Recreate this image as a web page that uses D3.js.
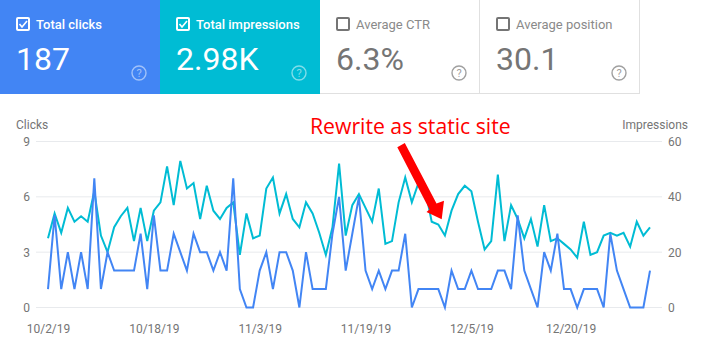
<!DOCTYPE html>
<meta charset="utf-8">
<script src="https://d3js.org/d3.v7.min.js"></script>
<style>
  html, body { margin: 0; background: #fff; }
  svg { display: block; font-family: Roboto, sans-serif; }
</style>
<body>
<div id="my_dataviz"></div>
<script>
// metric cards
var cardTitles = ["Total clicks", "Total impressions", "Average CTR", "Average position"];
var cardValues = ["187", "2.98K", "6.3%", "30.1"];
var cardFills = ["#4285f4", "#00bcd4", "#ffffff", "#ffffff"];
var cardChecked = [true, true, false, false];

// daily series
var clicks = [1,5,1,3,1,3,1,7,1,3,2,2,2,2,4,1,5,2,2,4,3,2,4,3,3,2,3,2,7,1,
  0,0,2,3,1,3,3,2,0,3,1,1,1,4,6,2,4,6,2,1,2,1,2,2,4,0,1,1,1,1,0,2,1,1,2,
  1,1,1,2,2,1,5,2,1,0,3,2,4,1,1,0,1,1,1,0,4,2,1,0,0,0,2];
var impressions = [25,34,27,36,31,33,31,42,26,20,29,33,36,24,36,24,35,38,51,37,53,43,45,32,44,35,32,36,38,19,
  34,25,26,43,47,34,41,32,29,38,34,27,19,29,52,26,37,41,36,31,43,23,24,38,47,38,45,43,31,30,26,35,41,44,42,
  31,21,24,48,24,37,32,25,32,22,37,24,25,23,21,18,31,19,20,26,27,26,27,22,31,26,29];

// x tick labels and the day each one sits on
var xTickDays = [0, 16, 32, 48, 64, 79];
var xTickLabels = ["10/2/19", "10/18/19", "11/3/19", "11/19/19", "12/5/19", "12/20/19"];
var clickTicks = [0, 3, 6, 9];
var impressionTicks = [0, 20, 40, 60];

var width = 704, height = 361;
var svg = d3.select("#my_dataviz").append("svg")
  .attr("width", width)
  .attr("height", height);

// cards
var cardW = 160, cardH = 94;
var card = svg.selectAll(".card")
  .data(cardTitles)
  .enter().append("g")
    .attr("class", "card")
    .attr("transform", function(d, i) { return "translate(" + (i * cardW) + ",0)"; });

card.append("rect")
  .attr("width", cardW)
  .attr("height", cardH)
  .attr("fill", function(d, i) { return cardFills[i]; });

card.append("rect")
  .attr("x", 17).attr("y", 18)
  .attr("width", 12).attr("height", 12)
  .attr("rx", 1)
  .attr("fill", "none")
  .attr("stroke-width", 2)
  .attr("stroke", function(d, i) { return cardChecked[i] ? "#ffffff" : "#757575"; });

card.filter(function(d, i) { return cardChecked[i]; }).append("path")
  .attr("d", "M19.5 24 L22 27 L27 21")
  .attr("fill", "none")
  .attr("stroke", "#fff")
  .attr("stroke-width", 1.6);

card.append("text")
  .attr("x", 36).attr("y", 28.5)
  .attr("font-size", 13)
  .attr("font-weight", function(d, i) { return cardChecked[i] ? 500 : 400; })
  .attr("fill", function(d, i) { return cardChecked[i] ? "#ffffff" : "#8a8a8a"; })
  .text(function(d) { return d; });

card.append("text")
  .attr("x", 16).attr("y", 70)
  .attr("font-size", 32)
  .attr("fill", function(d, i) { return cardChecked[i] ? "#ffffff" : "#757575"; })
  .text(function(d, i) { return cardValues[i]; });

card.append("circle")
  .attr("cx", 139).attr("cy", 73).attr("r", 7)
  .attr("fill", "none")
  .attr("stroke-width", 1.4)
  .attr("stroke", function(d, i) { return cardChecked[i] ? "rgba(255,255,255,0.5)" : "#a0a0a0"; });

card.append("text")
  .attr("x", 139).attr("y", 77)
  .attr("text-anchor", "middle")
  .attr("font-size", 11)
  .attr("fill", function(d, i) { return cardChecked[i] ? "rgba(255,255,255,0.5)" : "#a0a0a0"; })
  .text("?");

// card borders
svg.append("g").selectAll("line")
  .data([480, 640])
  .enter().append("line")
    .attr("x1", function(d) { return d - 0.5; })
    .attr("x2", function(d) { return d - 0.5; })
    .attr("y1", 0).attr("y2", cardH)
    .attr("stroke", "#e0e0e0");
svg.append("line")
  .attr("x1", 320).attr("x2", 640)
  .attr("y1", cardH - 0.5).attr("y2", cardH - 0.5)
  .attr("stroke", "#e0e0e0");

// scales
var x = d3.scaleLinear().domain([0, clicks.length - 1]).range([48, 650]);
var yClicks = d3.scaleLinear().domain([0, 9]).range([307.5, 141.5]);
var yImpr = d3.scaleLinear().domain([0, 60]).range([307.5, 141.5]);

// grid
svg.append("g").selectAll("line")
  .data(clickTicks)
  .enter().append("line")
    .attr("x1", 36).attr("x2", 662)
    .attr("y1", function(d) { return yClicks(d); })
    .attr("y2", function(d) { return yClicks(d); })
    .attr("stroke", "#e8eaed");

// axes
var axisColor = "#757575";
var fmtAxis = function(g) {
  g.select(".domain").remove();
  g.selectAll(".tick line").remove();
  g.selectAll(".tick text")
    .attr("fill", axisColor)
    .attr("font-family", "Roboto, sans-serif")
    .attr("font-size", 12);
};

svg.append("g")
  .attr("transform", "translate(30,0)")
  .call(d3.axisLeft(yClicks).tickValues(clickTicks).tickSize(0).tickPadding(0))
  .call(fmtAxis);

svg.append("g")
  .attr("transform", "translate(668,0)")
  .call(d3.axisRight(yImpr).tickValues(impressionTicks).tickSize(0).tickPadding(0))
  .call(fmtAxis);

svg.append("g")
  .attr("transform", "translate(0,324)")
  .call(d3.axisBottom(x).tickValues(xTickDays)
    .tickFormat(function(d, i) { return xTickLabels[i]; })
    .tickSize(0).tickPadding(0))
  .call(fmtAxis);

svg.append("text")
  .attr("x", 16).attr("y", 129)
  .attr("font-size", 12)
  .attr("fill", axisColor)
  .text("Clicks");

svg.append("text")
  .attr("x", 688).attr("y", 129)
  .attr("text-anchor", "end")
  .attr("font-size", 12)
  .attr("fill", axisColor)
  .text("Impressions");

// lines
svg.append("path")
  .datum(impressions)
  .attr("fill", "none")
  .attr("stroke", "#00bcd4")
  .attr("stroke-width", 2)
  .attr("d", d3.line()
    .x(function(d, i) { return x(i); })
    .y(function(d) { return yImpr(d); }));

svg.append("path")
  .datum(clicks)
  .attr("fill", "none")
  .attr("stroke", "#4285f4")
  .attr("stroke-width", 2)
  .attr("d", d3.line()
    .x(function(d, i) { return x(i); })
    .y(function(d) { return yClicks(d); }));

// annotation
svg.append("text")
  .attr("x", 310).attr("y", 134)
  .attr("font-family", "'Open Sans', sans-serif")
  .attr("font-size", 21.2)
  .attr("fill", "#ff0000")
  .text("Rewrite as static site");

svg.append("path")
  .attr("d", "M397.3 147.3 L404.8 143 L436.5 203.5 L444 200.7 L441.7 219.3 L426.5 212 L429.5 209.5 Z")
  .attr("fill", "#ff0000");
</script>
</body>
